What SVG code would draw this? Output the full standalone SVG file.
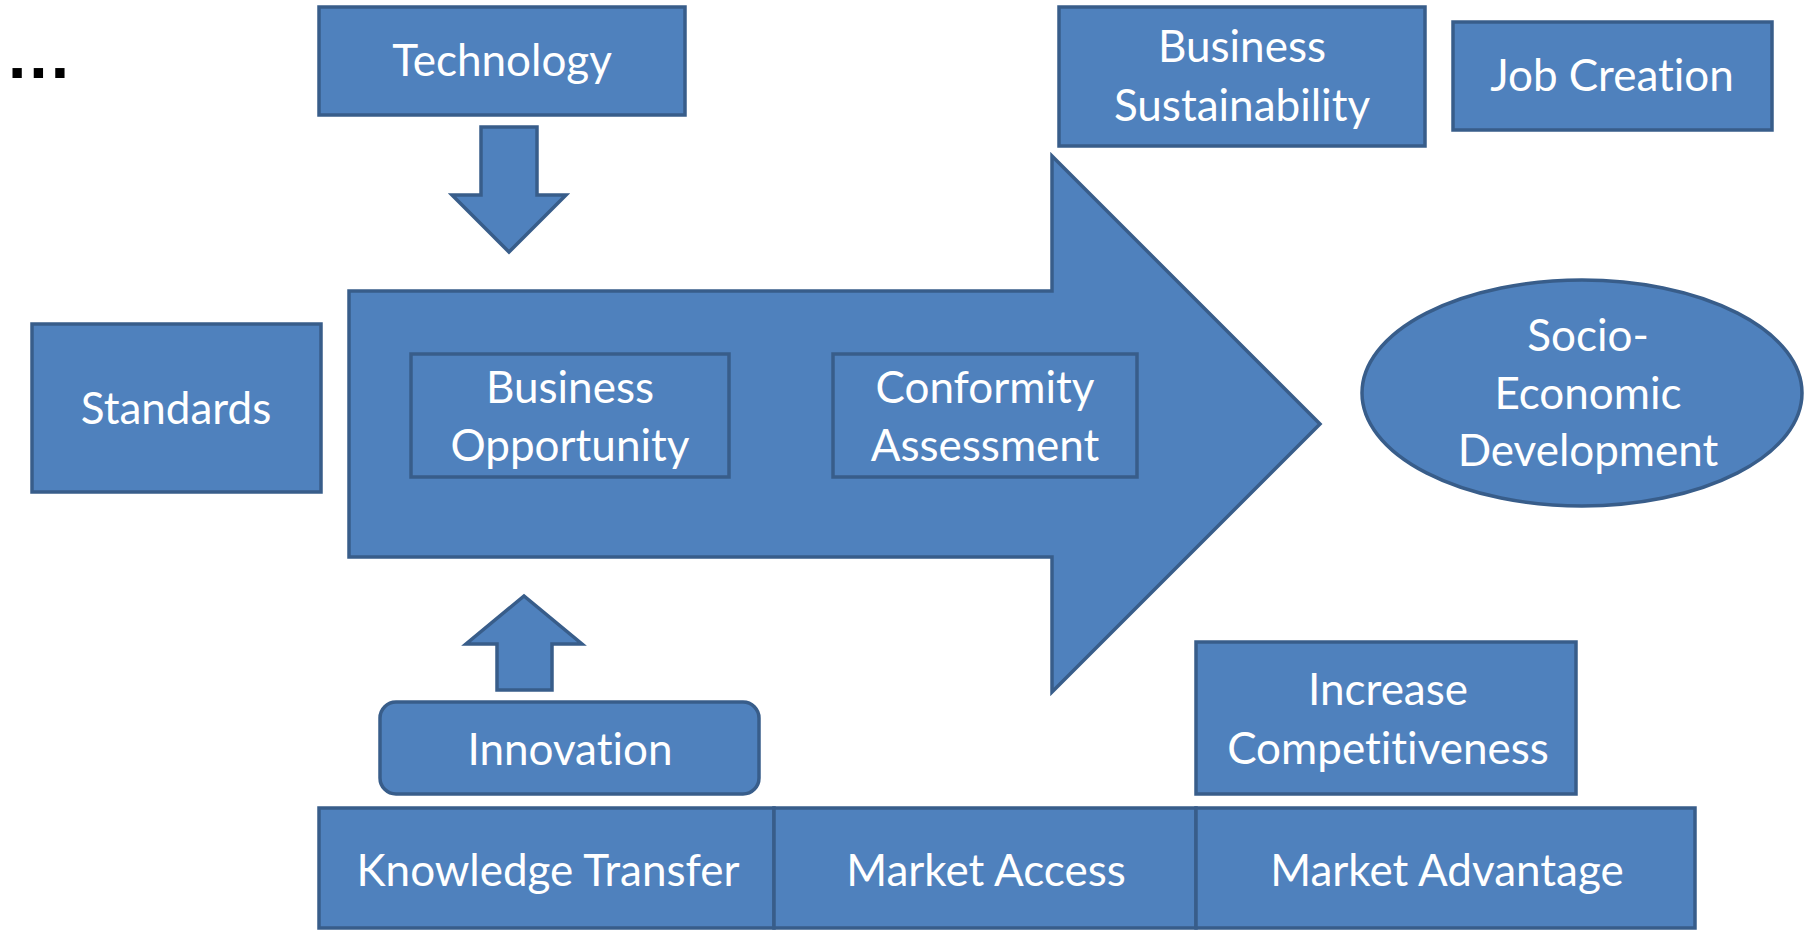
<svg xmlns="http://www.w3.org/2000/svg" width="1804" height="930" viewBox="0 0 1804 930">
<style>
.s{fill:#4F81BD;stroke:#385D8A;stroke-width:3.5;stroke-linejoin:miter}
.t{font-family:Lato,"Open Sans","Liberation Sans",sans-serif;font-size:44px;fill:#FFFFFF;text-anchor:middle;font-variant-ligatures:none;font-feature-settings:"liga" 0,"clig" 0}
.d{font-family:"Liberation Sans",Arial,sans-serif;font-weight:bold;font-size:66px;fill:#000000;letter-spacing:3px}
</style>
<rect width="1804" height="930" fill="#FFFFFF"/>
<text class="d" x="8" y="78">...</text>
<g id="connectors">
<path id="main-arrow" class="s" d="M349,291 H1052 V156 L1320,424 L1052,692 V557 H349 Z"/>
<path id="tech-arrow" class="s" d="M481,127 H537 V195 H566 L509,252 L452,195 H481 Z"/>
<path id="innov-arrow" class="s" d="M497,690 V644 H466 L524,596 L582,644 H552 V690 Z"/>
</g>
<g id="technology"><rect class="s" x="319" y="7" width="366" height="108"/><text class="t" x="502" y="76">Technology</text></g>
<g id="business-sustainability"><rect class="s" x="1059" y="7" width="366" height="139"/><text class="t" x="1242" y="62">Business</text><text class="t" x="1242" y="121">Sustainability</text></g>
<g id="job-creation"><rect class="s" x="1453" y="22" width="319" height="108"/><text class="t" x="1612" y="91">Job Creation</text></g>
<g id="standards"><rect class="s" x="32" y="324" width="289" height="168"/><text class="t" x="176" y="424">Standards</text></g>
<g id="business-opportunity"><rect class="s" x="411" y="354" width="318" height="123"/><text class="t" x="570" y="403">Business</text><text class="t" x="570" y="461">Opportunity</text></g>
<g id="conformity-assessment"><rect class="s" x="833" y="354" width="304" height="123"/><text class="t" x="985" y="403">Conformity</text><text class="t" x="985" y="461">Assessment</text></g>
<g id="socio-economic"><ellipse class="s" cx="1582" cy="393" rx="220" ry="113"/><text class="t" x="1588" y="351">Socio-</text><text class="t" x="1588" y="409">Economic</text><text class="t" x="1588" y="466">Development</text></g>
<g id="innovation"><rect class="s" x="380" y="702" width="379" height="92" rx="16"/><text class="t" x="570" y="765">Innovation</text></g>
<g id="increase-competitiveness"><rect class="s" x="1196" y="642" width="380" height="152"/><text class="t" x="1388" y="705">Increase</text><text class="t" x="1388" y="764">Competitiveness</text></g>
<g id="knowledge-transfer"><rect class="s" x="319" y="808" width="455" height="120"/><text class="t" x="548" y="886">Knowledge Transfer</text></g>
<g id="market-access"><rect class="s" x="774" y="808" width="422" height="120"/><text class="t" x="986" y="886">Market Access</text></g>
<g id="market-advantage"><rect class="s" x="1196" y="808" width="499" height="120"/><text class="t" x="1447" y="886">Market Advantage</text></g>
</svg>
